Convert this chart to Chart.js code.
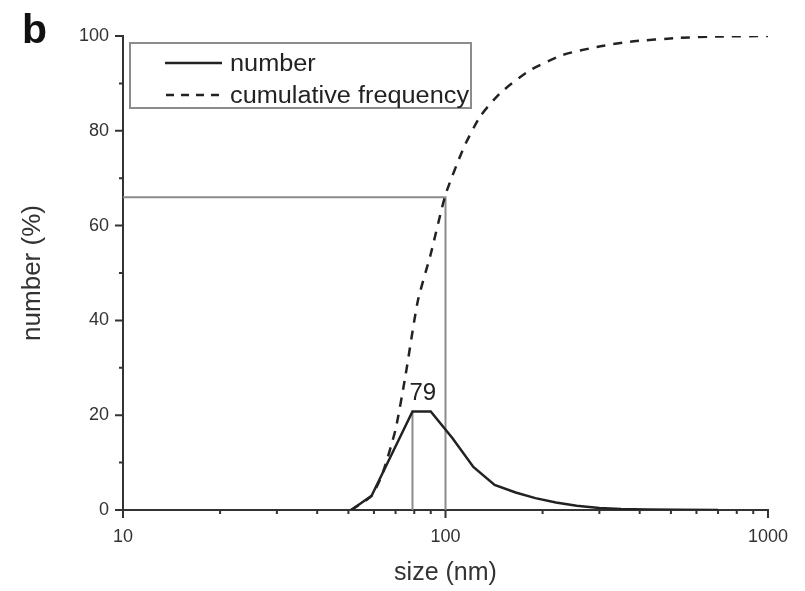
<!DOCTYPE html>
<html>
<head>
<meta charset="utf-8">
<script src="https://cdn.jsdelivr.net/npm/chart.js@4.4.1/dist/chart.umd.min.js"></script>
<style>
  html, body { margin: 0; padding: 0; background: #fff; }
  canvas { display: block; }
</style>
</head>
<body>
<canvas id="chart" width="805" height="591"></canvas>
<script>
// size bins (nm) and number distribution (%)
const sizes = [51, 59, 79, 90, 105, 122, 142, 165, 190, 220, 255, 300, 350, 420, 520, 700];
const numberPct = [0, 3, 20.8, 20.8, 15.2, 9.1, 5.3, 3.7, 2.5, 1.6, 0.9, 0.4, 0.2, 0.1, 0.05, 0];

// cumulative frequency curve (%)
const cumSizes = [51, 59, 64, 70, 75, 82, 90, 100, 114, 128, 148, 183, 231, 295, 373, 533, 700, 1000];
const cumPct = [0, 3, 8, 17, 28, 44, 54, 66.5, 76.5, 83, 88, 92.8, 96, 97.7, 98.8, 99.6, 99.9, 100];

// guide lines
const peakSize = 79;
const peakLabel = "79";
const cutSize = 100;
const cutPct = 66;

// axis ticks
const xMajor = [10, 100, 1000];
const xMinor = [20, 30, 40, 50, 60, 70, 80, 90, 200, 300, 400, 500, 600, 700, 800, 900];
const yMajor = [0, 20, 40, 60, 80, 100];
const yMinor = [10, 30, 50, 70, 90];

const ink = "#222";
const guide = "#8c8c8c";
const font = "'Liberation Sans', Arial, sans-serif";

const toPts = (xs, ys) => xs.map((x, i) => ({ x: x, y: ys[i] }));

// text a little wider than the font, like the scanned figure
function wideText(ctx, text, x, y, sx) {
  ctx.save();
  ctx.translate(x, y);
  ctx.scale(sx, 1);
  ctx.fillText(text, 0, 0);
  ctx.restore();
}

// tick marks, legend box, panel letter and peak label
const extras = {
  id: "extras",
  afterDraw(chart) {
    const ctx = chart.ctx;
    const xs = chart.scales.x;
    const ys = chart.scales.y;
    const area = chart.chartArea;
    ctx.save();
    ctx.strokeStyle = "#333";
    ctx.lineWidth = 2;
    ctx.beginPath();
    xMajor.forEach(v => { const p = xs.getPixelForValue(v); ctx.moveTo(p, area.bottom); ctx.lineTo(p, area.bottom + 8); });
    xMinor.forEach(v => { const p = xs.getPixelForValue(v); ctx.moveTo(p, area.bottom); ctx.lineTo(p, area.bottom + 4); });
    yMajor.forEach(v => { const p = ys.getPixelForValue(v); ctx.moveTo(area.left, p); ctx.lineTo(area.left - 8, p); });
    yMinor.forEach(v => { const p = ys.getPixelForValue(v); ctx.moveTo(area.left, p); ctx.lineTo(area.left - 4, p); });
    ctx.stroke();

    // legend
    ctx.strokeStyle = guide;
    ctx.lineWidth = 2;
    ctx.strokeRect(130, 43, 341, 65);
    ctx.strokeStyle = ink;
    ctx.lineWidth = 2.5;
    ctx.beginPath();
    ctx.moveTo(165, 63); ctx.lineTo(222, 63);
    ctx.stroke();
    ctx.setLineDash([8, 7]);
    ctx.beginPath();
    ctx.moveTo(166, 95); ctx.lineTo(224, 95);
    ctx.stroke();
    ctx.setLineDash([]);
    ctx.fillStyle = ink;
    ctx.font = "23px " + font;
    ctx.textBaseline = "alphabetic";
    ctx.textAlign = "left";
    wideText(ctx, "number", 230, 71, 1.1);
    wideText(ctx, "cumulative frequency", 230, 103, 1.1);

    // peak label
    ctx.textAlign = "center";
    ctx.font = "24px " + font;
    ctx.fillText(peakLabel, xs.getPixelForValue(85), ys.getPixelForValue(20.8) - 11);

    // panel letter
    ctx.textAlign = "left";
    ctx.font = "bold 41px " + font;
    ctx.fillStyle = "#111";
    ctx.fillText("b", 22, 43);
    ctx.restore();
  }
};

new Chart(document.getElementById("chart"), {
  type: "scatter",
  data: {
    datasets: [
      {
        label: "number",
        data: toPts(sizes, numberPct),
        showLine: true,
        borderColor: ink,
        borderWidth: 2.5,
        pointRadius: 0
      },
      {
        label: "cumulative frequency",
        data: toPts(cumSizes, cumPct),
        showLine: true,
        borderColor: ink,
        borderWidth: 2.5,
        borderDash: [9, 8],
        pointRadius: 0,
        tension: 0.2
      },
      {
        label: "peak",
        data: [{ x: peakSize, y: 0 }, { x: peakSize, y: 20.8 }],
        showLine: true,
        borderColor: guide,
        borderWidth: 2,
        pointRadius: 0
      },
      {
        label: "cut",
        data: [{ x: 10, y: cutPct }, { x: cutSize, y: cutPct }, { x: cutSize, y: 0 }],
        showLine: true,
        borderColor: guide,
        borderWidth: 2,
        pointRadius: 0
      }
    ]
  },
  options: {
    responsive: false,
    animation: false,
    devicePixelRatio: 1,
    layout: { padding: { top: 36, right: 37, left: 0, bottom: 0 } },
    plugins: {
      legend: { display: false },
      tooltip: { enabled: false }
    },
    scales: {
      x: {
        type: "logarithmic",
        min: 10,
        max: 1000,
        grid: { display: false },
        border: { color: "#333", width: 2 },
        afterBuildTicks: s => { s.ticks = xMajor.map(v => ({ value: v })); },
        afterFit: s => { s.height = 81; },
        ticks: {
          color: "#333",
          font: { family: font, size: 18 },
          padding: 8,
          maxRotation: 0,
          callback: v => String(v)
        },
        title: {
          display: true,
          text: "size (nm)",
          color: "#333",
          font: { family: font, size: 25 },
          padding: { top: 0, bottom: 3 }
        }
      },
      y: {
        min: 0,
        max: 100,
        grid: { display: false },
        border: { color: "#333", width: 2 },
        afterBuildTicks: s => { s.ticks = yMajor.map(v => ({ value: v })); },
        afterFit: s => { s.width = 123; },
        ticks: {
          color: "#333",
          font: { family: font, size: 18 },
          padding: 6
        },
        title: {
          display: true,
          text: "number (%)",
          color: "#333",
          font: { family: font, size: 26 },
          padding: { top: 17, bottom: 0 }
        }
      }
    }
  },
  plugins: [extras]
});
</script>
</body>
</html>
